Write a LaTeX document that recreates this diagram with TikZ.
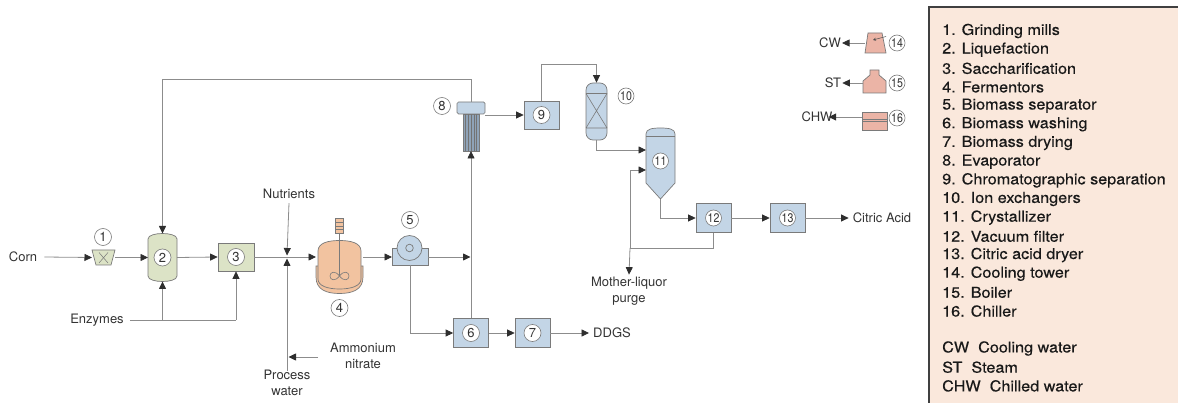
\documentclass[tikz,border=0pt]{standalone}
\usepackage{fontspec}
\setmainfont{TeX Gyre Heros}
\newfontfamily\legfont[FakeStretch=1.08,FakeBold=0.3]{TeX Gyre Heros}
\newfontfamily\numfont[FakeStretch=0.85]{TeX Gyre Heros}
\usetikzlibrary{arrows.meta,calc}
\definecolor{ln}{HTML}{8C8C8C}
\definecolor{grn}{HTML}{DCE3C6}
\definecolor{blu}{HTML}{C3D5E6}
\definecolor{tubes}{HTML}{8FA3B8}
\definecolor{org}{HTML}{F2C3A0}
\definecolor{pnk}{HTML}{EBB4A6}
\definecolor{legbg}{HTML}{FAE8DC}
\definecolor{edge}{HTML}{7A7A7A}
\definecolor{tip}{HTML}{2E2E2E}
\definecolor{txt}{HTML}{333333}
\begin{document}
\begin{tikzpicture}[x=1pt,y=-1pt,
 flow/.style={draw=ln,line width=0.8pt},
 arr/.style={flow,-{Triangle[length=7.5pt,width=7pt,fill=tip,color=tip]}},
 equip/.style={draw=edge,line width=0.7pt},
 boxg/.style={equip,fill=grn,minimum width=36pt,minimum height=28pt,inner sep=0},
 boxb/.style={equip,fill=blu,minimum width=35pt,minimum height=29pt,inner sep=0},
 ghost/.style={inner sep=0,outer sep=0},
 num/.style={circle,draw=edge,fill=white,line width=0.6pt,inner sep=0,minimum size=17pt,font=\fontsize{13}{13}\selectfont,text=txt},
 numb/.style={num,minimum size=16pt,font=\numfont\fontsize{12.5}{13}\selectfont},
 lbl/.style={font=\fontsize{13}{16}\selectfont,text=txt,align=center,inner sep=0},
 leg/.style={font=\legfont\fontsize{15}{18}\selectfont,anchor=west,inner sep=0,text=black!90}
]
\useasboundingbox (0,0) rectangle (1178,403);

% ---------- legend ----------
\draw[draw=black!75,line width=1.2pt,fill=legbg] (929,7) rectangle (1185,410);
\foreach \t [count=\i] in {1. Grinding mills,2. Liquefaction,3. Saccharification,4. Fermentors,5. Biomass separator,6. Biomass washing,7. Biomass drying,8. Evaporator,9. Chromatographic separation,10. Ion exchangers,11. Crystallizer,12. Vacuum filter,13. Citric acid dryer,14. Cooling tower,15. Boiler,16. Chiller}
  \node[leg] (leg\i) at (942,{31+18.67*(\i-1)}) {\t};
\node[leg] (legcw) at (942,348.5) {CW\ \ Cooling water};
\node[leg] (legst) at (942,367.2) {ST\ \ Steam};
\node[leg] (legchw) at (942,385.9) {CHW\ \ Chilled water};

% ---------- labels ----------
\node[lbl] (corn) at (23,257) {Corn};
\node[lbl] (enz) at (97,320) {Enzymes};
\node[lbl] (nut) at (289,194) {Nutrients};
\node[lbl] (pw) at (287,383) {Process\\water};
\node[lbl] (an) at (363,355.5) {Ammonium\\nitrate};
\node[lbl] (ddgs) at (612,333) {DDGS};
\node[lbl] (ca) at (882,218) {Citric Acid};
\node[lbl] (mlq) at (629,291) {Mother-liquor\\purge};
\node[lbl] (cw) at (830,43) {CW};
\node[lbl] (st) at (833,83) {ST};
\node[lbl] (chw) at (817,117) {CHW};

% ---------- equipment ----------
% 1 grinding mill
\node[ghost,minimum width=23pt,minimum height=15pt] (n1) at (103.5,257.5) {};
\draw[equip,fill=grn] (92,250) -- (115,250) -- (111,265) -- (96,265) -- cycle;
\draw[edge,line width=0.5pt] (99,252.5) -- (108,263) (108,252.5) -- (99,263);
\node[num] (c1) at (103,237) {1};

% 2 liquefaction
\node[ghost,minimum width=29pt,minimum height=48pt] (n2) at (162.5,257.5) {};
\draw[equip,fill=grn] (148,276) -- (148,239) .. controls (148,235) and (156,233.5) .. (162.5,233.5) .. controls (169,233.5) and (177,235) .. (177,239) -- (177,276) .. controls (177,280) and (169,281.5) .. (162.5,281.5) .. controls (156,281.5) and (148,280) .. cycle;
\node[num] at (n2) {2};

% 3 saccharification
\node[boxg] (n3) at (236,257) {};
\node[num] at (n3) {3};

% 4 fermenter
\node[ghost,minimum width=47pt,minimum height=52pt] (n4) at (339.5,267) {};
\draw[equip,fill=org] (316,266) -- (316,277) .. controls (316,290) and (327,293.5) .. (339.5,293.5) .. controls (352,293.5) and (363,290) .. (363,277) -- (363,266) -- cycle;
\draw[equip,fill=org] (318,279) -- (318,251) .. controls (318,243) and (328,240.5) .. (339.5,240.5) .. controls (351,240.5) and (361,243) .. (361,251) -- (361,279) .. controls (361,286) and (351,289) .. (339.5,289) .. controls (328,289) and (318,286) .. cycle;
\draw[equip,fill=org] (335.5,218) rectangle (343.5,233);
\draw[edge,line width=0.5pt] (335.5,222) -- (343.5,222) (335.5,226) -- (343.5,226) (335.5,229.5) -- (343.5,229.5);
\draw[edge,line width=0.7pt] (339.5,233) -- (339.5,276);
\draw[edge,line width=0.6pt] (339.5,276) .. controls (335,270) and (330,272) .. (330,276) .. controls (330,280) and (335,282) .. (339.5,276) .. controls (344,270) and (349,272) .. (349,276) .. controls (349,280) and (344,282) .. (339.5,276);
\node[num] at (339.5,308) {4};

% 5 biomass separator
\node[ghost,minimum width=36pt,minimum height=29pt] (n5) at (410,250.5) {};
\draw[equip,fill=blu] (392,248) rectangle (428,265);
\draw[equip,fill=blu] (409.5,248) circle (12.5);
\draw[equip,fill=blu] (409.5,248) circle (3.8);
\node[num] at (410,220) {5};

% 6, 7
\node[boxb] (n6) at (471,333) {};
\node[num] at (n6) {6};
\node[boxb] (n7) at (532.5,333) {};
\node[num] at (n7) {7};

% 8 evaporator
\node[ghost,minimum width=28pt,minimum height=49pt] (n8) at (471,126.5) {};
\draw[equip,fill=tubes] (463,114) rectangle (479,151);
\foreach \xx in {465.7,468.4,471.1,473.8,476.5}
  \draw[black!55,line width=0.5pt] (\xx,114) -- (\xx,151);
\draw[equip,fill=blu,rounded corners=1.5pt] (457,102) rectangle (485,114);
\node[num] at (442,106) {8};

% 9
\node[boxb,minimum height=28pt] (n9) at (541.5,115) {};
\node[num] at (n9) {9};

% 10 ion exchanger
\node[equip,fill=blu,rounded corners=7pt,minimum width=21pt,minimum height=57pt,inner sep=0] (n10) at (596.5,111.5) {};
\draw[edge,line width=0.6pt] (586,93.5) -- (607,93.5) (586,128) -- (607,128) (586,93.5) -- (607,128) (607,93.5) -- (586,128);
\node[numb] at (626,96) {10};

% 11 crystallizer
\node[ghost,minimum width=29pt,minimum height=71pt] (n11) at (660.5,163.5) {};
\draw[equip,fill=blu] (646,183) -- (646,134) .. controls (646,129) and (652,128) .. (660.5,128) .. controls (669,128) and (675,129) .. (675,134) -- (675,183) -- (660.5,199) -- (646,183) -- cycle;
\draw[edge,line width=0.6pt] (646,136) -- (675,136);
\node[numb] at (660.5,161) {11};

% 12, 13
\node[boxb] (n12) at (713.5,218) {};
\node[numb] at (n12) {12};
\node[boxb] (n13) at (787.5,218) {};
\node[numb] at (n13) {13};

% utilities
\node[ghost,minimum width=21pt,minimum height=20pt] (n14) at (875.5,43) {};
\draw[equip,fill=pnk] (868,33) -- (882,33) -- (886,53) -- (865,53) -- cycle;
\draw[black!70,line width=0.5pt,-{Stealth[length=3pt,width=3pt]}] (886,36.5) -- (873,40);
\node[numb] at (897,43) {14};

\node[ghost,minimum width=23pt,minimum height=23pt] (n15) at (874.5,81.5) {};
\draw[equip,fill=pnk] (870,70) -- (879,70) -- (879,75) -- (886,81) -- (886,93) -- (863,93) -- (863,81) -- (870,75) -- cycle;
\node[numb] at (897,83) {15};

\node[ghost,minimum width=25pt,minimum height=18pt] (n16) at (874.5,121) {};
\draw[equip,fill=pnk] (862,112) rectangle (887,130);
\draw[edge,line width=0.6pt] (862,119.5) -- (887,119.5) (862,121.5) -- (887,121.5);
\node[numb] at (897,118) {16};

% ---------- connectors ----------
\coordinate (jn) at (287,257);
\draw[arr] ([xshift=7pt]corn.east) -- (n1.west);
\draw[arr] (n1.east) -- (n2.west);
\draw[arr] (n2.east) -- (n3.west);
\draw[arr] (n3.east) -- (n4.west |- n3.east);
\draw[arr] ([yshift=-4pt]nut.south) -- ([yshift=1.5pt]jn);
\draw[arr] ([yshift=-1pt]pw.north) -- ([yshift=-1.5pt]jn);
\coordinate (anout) at (318,357);
\draw[arr] (anout) -- ([xshift=1.5pt]anout -| jn);
\draw[flow] ([xshift=6pt]enz.east) -- (n3.south |- enz);
\draw[arr] (n2.south |- enz) -- (n2.south);
\draw[arr] (n3.south |- enz) -- (n3.south);
\draw[arr] (n4.east |- jn) -- (n5.west |- jn);
\draw[arr] (n5.east |- jn) -- ([xshift=-0.5pt]n6.north |- jn);
\draw[arr] (n5.south) |- (n6.west);
\draw[arr] (n6.north) -- (n8.south);
\draw[arr] (n8.north) -- ++(0,-23) -| (n2.north);
\draw[arr] (n6.east) -- (n7.west);
\draw[arr] (n7.east) -- ([xshift=-4pt]ddgs.west);
\draw[arr] (n8.east |- n9.west) -- (n9.west);
\draw[arr] (n9.north) -- ++(0,-36) -| (n10.north);
\draw[arr] (n10.south) |- ([yshift=13.5pt]n11.west);
\coordinate (mlj) at (630,248);
\draw[flow] (n12.south) |- (mlj);
\draw[arr] (mlj) |- ([yshift=-6.5pt]n11.west);
\draw[arr] (mlj) -- ([yshift=2pt]mlq.north);
\draw[arr] (n11.south) |- (n12.west);
\draw[arr] (n12.east) -- (n13.west);
\draw[arr] (n13.east) -- ([xshift=-4pt]ca.west);
\draw[arr] (n14.west) -- ([xshift=1pt]cw.east);
\draw[arr] (n15.west |- st) -- ([xshift=1pt]st.east);
\draw[arr] (n16.west |- chw) -- ([xshift=-4pt]chw.east);
\end{tikzpicture}
\end{document}
